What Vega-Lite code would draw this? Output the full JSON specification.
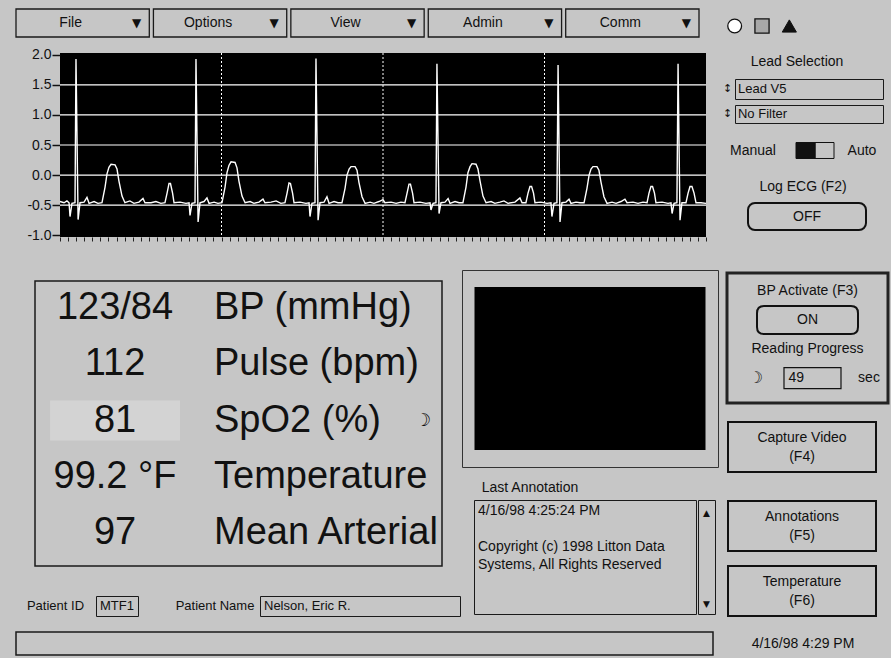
{
 "$schema": "https://vega.github.io/schema/vega-lite/v6.json",
 "background": "#c6c6c6",
 "padding": {"left": 15, "top": 8, "right": 1, "bottom": 2},
 "spacing": 2,
 "config": {
  "view": {"stroke": null},
  "font": "Liberation Sans",
  "text": {"font": "Liberation Sans", "fontSize": 14, "color": "#111111"},
  "concat": {"spacing": 0}
 },
 "hconcat": [
  {"spacing": 0, "vconcat": [
   {
    "width": 683, "height": 28,
    "data": {"values": [{"m": "File"}, {"m": "Options"}, {"m": "View"}, {"m": "Admin"}, {"m": "Comm"}]},
    "encoding": {"x": {"field": "m", "type": "nominal", "sort": null, "axis": null, "scale": {"type": "band", "paddingInner": 0.03, "paddingOuter": 0}}},
    "layer": [
     {"mark": {"type": "bar", "fill": "#c6c6c6", "stroke": "#1a1a1a", "strokeWidth": 1.3}},
     {"mark": {"type": "text", "dx": -12, "fontSize": 14}, "encoding": {"text": {"field": "m"}}},
     {"mark": {"type": "text", "text": "▼", "dx": 54, "font": "DejaVu Sans", "fontSize": 12}}
    ]
   },
   {"width": 1, "height": 9, "data": {"values": []}, "mark": "point"},
   {"spacing": 0, "hconcat": [
    {"width": 10, "height": 1, "data": {"values": []}, "mark": "point"},
    {
     "width": 646, "height": 184,
     "view": {"fill": "black", "stroke": null},
     "layer": [
      {
       "data": {"values": [{"t": 1}, {"t": 2}, {"t": 3}]},
       "mark": {"type": "rule", "color": "white", "strokeDash": [2, 2], "strokeWidth": 1},
       "encoding": {"x": {"field": "t", "type": "quantitative", "scale": {"domain": [0, 4], "nice": false, "zero": false},
        "axis": {"values": [0,0.05,0.1,0.15,0.2,0.25,0.3,0.35,0.4,0.45,0.5,0.55,0.6,0.65,0.7,0.75,0.8,0.85,0.9,0.95,1,1.05,1.1,1.15,1.2,1.25,1.3,1.35,1.4,1.45,1.5,1.55,1.6,1.65,1.7,1.75,1.8,1.85,1.9,1.95,2,2.05,2.1,2.15,2.2,2.25,2.3,2.35,2.4,2.45,2.5,2.55,2.6,2.65,2.7,2.75,2.8,2.85,2.9,2.95,3,3.05,3.1,3.15,3.2,3.25,3.3,3.35,3.4,3.45,3.5,3.55,3.6,3.65,3.7,3.75,3.8,3.85,3.9,3.95,4], "labels": false, "title": null, "grid": false, "domain": false, "tickSize": 4, "tickColor": "#222222", "tickWidth": 1}}}
      },
      {
       "data": {"values": [{"v": 1.5}, {"v": 1}, {"v": 0.5}, {"v": 0}, {"v": -0.5}]},
       "mark": {"type": "rule", "color": "white", "strokeWidth": 1.2},
       "encoding": {"y": {"field": "v", "type": "quantitative", "scale": {"domain": [-1.03, 2.03], "nice": false, "zero": false},
        "axis": {"values": [-1, -0.5, 0, 0.5, 1, 1.5, 2], "labelExpr": "(datum.value < 0 ? '-' : '') + format(abs(datum.value), '.1f')", "title": null, "grid": false, "domain": false, "tickSize": 8, "tickColor": "#111111", "tickWidth": 1.5, "labelFont": "Liberation Sans", "labelFontSize": 14, "labelColor": "#111111", "labelPadding": 1}}}
      },
      {
       "data": {"values": [
        {"t":0,"v":-0.44},{"t":0.025,"v":-0.46},{"t":0.043,"v":-0.43},{"t":0.056,"v":-0.46},{"t":0.062,"v":-0.69},{"t":0.074,"v":-0.47},{"t":0.093,"v":-0.46},{"t":0.099,"v":1.93},{"t":0.112,"v":-0.74},{"t":0.124,"v":-0.46},{"t":0.149,"v":-0.45},{"t":0.167,"v":-0.37},{"t":0.18,"v":-0.47},{"t":0.211,"v":-0.44},{"t":0.235,"v":-0.47},{"t":0.26,"v":-0.46},{"t":0.279,"v":-0.2},{"t":0.291,"v":0.02},{"t":0.303,"v":0.13},{"t":0.316,"v":0.18},{"t":0.341,"v":0.17},{"t":0.353,"v":0.1},{"t":0.365,"v":-0.1},{"t":0.384,"v":-0.35},{"t":0.402,"v":-0.46},{"t":0.433,"v":-0.43},{"t":0.458,"v":-0.47},{"t":0.489,"v":-0.45},{"t":0.514,"v":-0.39},{"t":0.526,"v":-0.46},{"t":0.564,"v":-0.46},{"t":0.594,"v":-0.44},{"t":0.625,"v":-0.47},{"t":0.65,"v":-0.46},{"t":0.663,"v":-0.3},{"t":0.675,"v":-0.14},{"t":0.684,"v":-0.14},{"t":0.697,"v":-0.3},{"t":0.706,"v":-0.46},{"t":0.743,"v":-0.45},{"t":0.78,"v":-0.47},
        {"t":0.799,"v":-0.46},{"t":0.805,"v":-0.67},{"t":0.817,"v":-0.47},{"t":0.836,"v":-0.46},{"t":0.842,"v":1.93},{"t":0.855,"v":-0.78},{"t":0.867,"v":-0.46},{"t":0.892,"v":-0.44},{"t":0.91,"v":-0.38},{"t":0.923,"v":-0.47},{"t":0.954,"v":-0.45},{"t":0.978,"v":-0.47},{"t":1.003,"v":-0.46},{"t":1.022,"v":-0.2},{"t":1.034,"v":0.04},{"t":1.046,"v":0.16},{"t":1.059,"v":0.22},{"t":1.084,"v":0.21},{"t":1.096,"v":0.12},{"t":1.108,"v":-0.1},{"t":1.127,"v":-0.35},{"t":1.146,"v":-0.46},{"t":1.177,"v":-0.44},{"t":1.201,"v":-0.47},{"t":1.232,"v":-0.45},{"t":1.257,"v":-0.4},{"t":1.269,"v":-0.46},{"t":1.307,"v":-0.45},{"t":1.338,"v":-0.43},{"t":1.368,"v":-0.47},{"t":1.393,"v":-0.46},{"t":1.406,"v":-0.3},{"t":1.418,"v":-0.13},{"t":1.427,"v":-0.14},{"t":1.44,"v":-0.3},{"t":1.449,"v":-0.46},{"t":1.486,"v":-0.45},{"t":1.523,"v":-0.47},
        {"t":1.542,"v":-0.46},{"t":1.548,"v":-0.69},{"t":1.56,"v":-0.47},{"t":1.579,"v":-0.46},{"t":1.585,"v":1.94},{"t":1.598,"v":-0.75},{"t":1.61,"v":-0.46},{"t":1.635,"v":-0.45},{"t":1.653,"v":-0.36},{"t":1.666,"v":-0.47},{"t":1.697,"v":-0.44},{"t":1.721,"v":-0.46},{"t":1.746,"v":-0.46},{"t":1.765,"v":-0.22},{"t":1.777,"v":0},{"t":1.79,"v":0.1},{"t":1.802,"v":0.14},{"t":1.827,"v":0.14},{"t":1.839,"v":0.08},{"t":1.851,"v":-0.12},{"t":1.87,"v":-0.36},{"t":1.889,"v":-0.47},{"t":1.92,"v":-0.45},{"t":1.944,"v":-0.47},{"t":1.975,"v":-0.44},{"t":2,"v":-0.41},{"t":2.012,"v":-0.46},{"t":2.05,"v":-0.45},{"t":2.081,"v":-0.47},{"t":2.111,"v":-0.45},{"t":2.136,"v":-0.46},{"t":2.149,"v":-0.3},{"t":2.161,"v":-0.15},{"t":2.17,"v":-0.15},{"t":2.183,"v":-0.3},{"t":2.192,"v":-0.46},{"t":2.229,"v":-0.45},{"t":2.266,"v":-0.47},
        {"t":2.291,"v":-0.46},{"t":2.297,"v":-0.58},{"t":2.31,"v":-0.47},{"t":2.328,"v":-0.46},{"t":2.334,"v":1.85},{"t":2.347,"v":-0.64},{"t":2.359,"v":-0.46},{"t":2.384,"v":-0.45},{"t":2.403,"v":-0.39},{"t":2.415,"v":-0.47},{"t":2.446,"v":-0.44},{"t":2.471,"v":-0.46},{"t":2.495,"v":-0.46},{"t":2.514,"v":-0.2},{"t":2.526,"v":0.04},{"t":2.539,"v":0.14},{"t":2.551,"v":0.19},{"t":2.576,"v":0.18},{"t":2.588,"v":0.1},{"t":2.601,"v":-0.1},{"t":2.619,"v":-0.35},{"t":2.638,"v":-0.46},{"t":2.669,"v":-0.44},{"t":2.693,"v":-0.47},{"t":2.724,"v":-0.45},{"t":2.749,"v":-0.43},{"t":2.774,"v":-0.47},{"t":2.817,"v":-0.45},{"t":2.848,"v":-0.38},{"t":2.861,"v":-0.46},{"t":2.885,"v":-0.46},{"t":2.898,"v":-0.3},{"t":2.91,"v":-0.19},{"t":2.92,"v":-0.19},{"t":2.932,"v":-0.3},{"t":2.941,"v":-0.46},{"t":2.978,"v":-0.45},{"t":3.015,"v":-0.47},
        {"t":3.04,"v":-0.46},{"t":3.046,"v":-0.69},{"t":3.059,"v":-0.47},{"t":3.077,"v":-0.46},{"t":3.084,"v":1.83},{"t":3.096,"v":-0.78},{"t":3.108,"v":-0.46},{"t":3.133,"v":-0.45},{"t":3.152,"v":-0.4},{"t":3.164,"v":-0.47},{"t":3.195,"v":-0.45},{"t":3.22,"v":-0.46},{"t":3.245,"v":-0.46},{"t":3.263,"v":-0.22},{"t":3.276,"v":0},{"t":3.288,"v":0.1},{"t":3.3,"v":0.14},{"t":3.325,"v":0.14},{"t":3.337,"v":0.08},{"t":3.35,"v":-0.12},{"t":3.368,"v":-0.36},{"t":3.387,"v":-0.47},{"t":3.418,"v":-0.45},{"t":3.443,"v":-0.47},{"t":3.474,"v":-0.44},{"t":3.498,"v":-0.4},{"t":3.511,"v":-0.46},{"t":3.548,"v":-0.45},{"t":3.579,"v":-0.47},{"t":3.61,"v":-0.45},{"t":3.635,"v":-0.46},{"t":3.647,"v":-0.3},{"t":3.659,"v":-0.19},{"t":3.669,"v":-0.19},{"t":3.681,"v":-0.3},{"t":3.69,"v":-0.46},{"t":3.728,"v":-0.45},{"t":3.765,"v":-0.47},
        {"t":3.783,"v":-0.46},{"t":3.79,"v":-0.64},{"t":3.802,"v":-0.47},{"t":3.82,"v":-0.46},{"t":3.827,"v":1.85},{"t":3.839,"v":-0.75},{"t":3.851,"v":-0.46},{"t":3.876,"v":-0.46},{"t":3.889,"v":-0.3},{"t":3.901,"v":-0.19},{"t":3.913,"v":-0.19},{"t":3.926,"v":-0.3},{"t":3.938,"v":-0.46},{"t":3.969,"v":-0.46},{"t":4,"v":-0.47}
       ]},
       "mark": {"type": "line", "color": "white", "strokeWidth": 1.4},
       "encoding": {
        "x": {"field": "t", "type": "quantitative", "scale": {"domain": [0, 4], "nice": false, "zero": false},
         "axis": {"values": [0,0.05,0.1,0.15,0.2,0.25,0.3,0.35,0.4,0.45,0.5,0.55,0.6,0.65,0.7,0.75,0.8,0.85,0.9,0.95,1,1.05,1.1,1.15,1.2,1.25,1.3,1.35,1.4,1.45,1.5,1.55,1.6,1.65,1.7,1.75,1.8,1.85,1.9,1.95,2,2.05,2.1,2.15,2.2,2.25,2.3,2.35,2.4,2.45,2.5,2.55,2.6,2.65,2.7,2.75,2.8,2.85,2.9,2.95,3,3.05,3.1,3.15,3.2,3.25,3.3,3.35,3.4,3.45,3.5,3.55,3.6,3.65,3.7,3.75,3.8,3.85,3.9,3.95,4], "labels": false, "title": null, "grid": false, "domain": false, "tickSize": 4, "tickColor": "#222222", "tickWidth": 1}},
        "y": {"field": "v", "type": "quantitative", "scale": {"domain": [-1.03, 2.03], "nice": false, "zero": false},
         "axis": {"values": [-1, -0.5, 0, 0.5, 1, 1.5, 2], "labelExpr": "(datum.value < 0 ? '-' : '') + format(abs(datum.value), '.1f')", "title": null, "grid": false, "domain": false, "tickSize": 8, "tickColor": "#111111", "tickWidth": 1.5, "labelFont": "Liberation Sans", "labelFontSize": 14, "labelColor": "#111111", "labelPadding": 1}}
       }
      }
     ]
    }
   ]},
   {"width": 1, "height": 26, "data": {"values": []}, "mark": "point"},
   {"spacing": 0, "hconcat": [
    {"spacing": 0, "vconcat": [
     {"width": 1, "height": 10, "data": {"values": []}, "mark": "point"},
     {"spacing": 0, "hconcat": [
      {"width": 18, "height": 1, "data": {"values": []}, "mark": "point"},
      {
       "width": 407, "height": 285,
       "view": {"stroke": "#1a1a1a", "strokeWidth": 1.5},
       "data": {"values": [
        {"k": "BP", "val": "123/84", "lab": "BP (mmHg)"},
        {"k": "Pulse", "val": "112", "lab": "Pulse (bpm)"},
        {"k": "SpO2", "val": "81", "lab": "SpO2 (%)"},
        {"k": "Temp", "val": "99.2 °F", "lab": "Temperature"},
        {"k": "MAP", "val": "97", "lab": "Mean Arterial"}
       ]},
       "encoding": {"y": {"field": "k", "type": "nominal", "axis": null, "scale": {"type": "point", "domain": ["BP", "Pulse", "SpO2", "Temp", "MAP"], "padding": 0.533, "align": 0.45}}},
       "layer": [
        {"transform": [{"filter": "datum.k === 'SpO2'"}],
         "mark": {"type": "point", "shape": "M-1,-0.308H1V0.308H-1Z", "size": 16900, "filled": true, "fill": "#d3d3d3", "strokeWidth": 0, "opacity": 1},
         "encoding": {"x": {"datum": "val", "type": "nominal", "axis": null, "scale": {"type": "point", "domain": ["val", "lab", "d1", "d2"], "padding": 0.556, "align": 0.727}}}},
        {"mark": {"type": "text", "fontSize": 38, "align": "center"},
         "encoding": {"x": {"datum": "val", "type": "nominal", "axis": null, "scale": {"type": "point", "domain": ["val", "lab", "d1", "d2"], "padding": 0.556, "align": 0.727}}, "text": {"field": "val"}}},
        {"mark": {"type": "text", "fontSize": 38, "align": "left"},
         "encoding": {"x": {"datum": "lab", "type": "nominal", "axis": null, "scale": {"type": "point", "domain": ["val", "lab", "d1", "d2"], "padding": 0.556, "align": 0.727}}, "text": {"field": "lab"}}},
        {"transform": [{"filter": "datum.k === 'SpO2'"}],
         "mark": {"type": "text", "text": "☽", "fontSize": 18, "dx": 201, "align": "left", "font": "DejaVu Sans"},
         "encoding": {"x": {"datum": "lab", "type": "nominal", "axis": null, "scale": {"type": "point", "domain": ["val", "lab", "d1", "d2"], "padding": 0.556, "align": 0.727}}}}
       ]
      }
     ]},
     {"width": 1, "height": 28, "data": {"values": []}, "mark": "point"},
     {"spacing": 0, "hconcat": [
      {"width": 79, "height": 20, "data": {"values": [{}]}, "mark": {"type": "text", "text": "Patient ID", "fontSize": 13}},
      {"width": 42, "height": 20, "view": {"stroke": "#1a1a1a", "strokeWidth": 1}, "data": {"values": [{}]}, "mark": {"type": "text", "text": "MTF1", "fontSize": 13}},
      {"width": 32, "height": 1, "data": {"values": []}, "mark": "point"},
      {"width": 88, "height": 20, "data": {"values": [{}]}, "mark": {"type": "text", "text": "Patient Name", "fontSize": 13}},
      {"width": 200, "height": 20, "view": {"stroke": "#1a1a1a", "strokeWidth": 1},
       "data": {"values": [{"c": "a", "s": "Nelson, Eric R."}]},
       "mark": {"type": "text", "align": "left", "fontSize": 13},
       "encoding": {"x": {"field": "c", "type": "nominal", "axis": null, "scale": {"type": "point", "padding": 0, "align": 0.02}}, "text": {"field": "s"}}}
     ]}
    ]},
    {"spacing": 0, "vconcat": [
     {"width": 256, "height": 197, "view": {"stroke": "#333333", "strokeWidth": 1},
      "data": {"values": [{}]},
      "mark": {"type": "point", "shape": "M-1,-0.706H1V0.706H-1Z", "size": 53361, "filled": true, "fill": "black", "strokeWidth": 0, "opacity": 1}},
     {"width": 1, "height": 12, "data": {"values": []}, "mark": "point"},
     {"spacing": 0, "hconcat": [
      {"width": 16, "height": 1, "data": {"values": []}, "mark": "point"},
      {"width": 104, "height": 16, "data": {"values": [{}]}, "mark": {"type": "text", "text": "Last Annotation", "fontSize": 14}}
     ]},
     {"width": 1, "height": 3, "data": {"values": []}, "mark": "point"},
     {"spacing": 0, "hconcat": [
      {"width": 11, "height": 1, "data": {"values": []}, "mark": "point"},
      {"width": 222, "height": 114, "view": {"stroke": "#1a1a1a", "strokeWidth": 1},
       "data": {"values": [
        {"r": "l1", "c": "a", "s": "4/16/98 4:25:24 PM"},
        {"r": "l3", "c": "a", "s": "Copyright (c) 1998 Litton Data"},
        {"r": "l4", "c": "a", "s": "Systems, All Rights Reserved"}
       ]},
       "mark": {"type": "text", "align": "left", "fontSize": 14},
       "encoding": {
        "x": {"field": "c", "type": "nominal", "axis": null, "scale": {"type": "point", "padding": 0, "align": 0.018}},
        "y": {"field": "r", "type": "nominal", "axis": null, "scale": {"type": "point", "domain": ["l1", "l2", "l3", "l4", "e1", "e2"], "padding": 0.667, "align": 0.458}},
        "text": {"field": "s"}
       }},
      {"width": 17, "height": 114, "view": {"stroke": "#1a1a1a", "strokeWidth": 1},
       "data": {"values": [{"r": "up", "s": "▲"}, {"r": "down", "s": "▼"}]},
       "mark": {"type": "text", "fontSize": 9, "font": "DejaVu Sans"},
       "encoding": {
        "y": {"field": "r", "type": "nominal", "axis": null, "scale": {"type": "point", "domain": ["up", "down"], "padding": 0.1264, "align": 0.565}},
        "text": {"field": "s"}
       }}
     ]}
    ]}
   ]},
   {"width": 1, "height": 14, "data": {"values": []}, "mark": "point"},
   {"width": 697, "height": 23, "view": {"stroke": "#1a1a1a", "strokeWidth": 1.5}, "data": {"values": []}, "mark": "point"}
  ]},
  {"spacing": 0, "vconcat": [
   {"width": 82, "height": 34,
    "data": {"values": [{}]},
    "layer": [
     {"mark": {"type": "point", "shape": "circle", "size": 190, "filled": true, "fill": "white", "stroke": "#111111", "strokeWidth": 1.3, "opacity": 1},
      "encoding": {"x": {"datum": "circle", "type": "nominal", "axis": null, "scale": {"type": "point", "domain": ["circle", "square", "triangle"], "padding": 0.5}}}},
     {"mark": {"type": "point", "shape": "square", "size": 200, "filled": true, "fill": "#a8a8a8", "stroke": "#111111", "strokeWidth": 1.3, "opacity": 1},
      "encoding": {"x": {"datum": "square", "type": "nominal", "axis": null, "scale": {"type": "point", "domain": ["circle", "square", "triangle"], "padding": 0.5}}}},
     {"mark": {"type": "point", "shape": "triangle-up", "size": 200, "filled": true, "fill": "#111111", "stroke": "#111111", "strokeWidth": 1, "opacity": 1},
      "encoding": {"x": {"datum": "triangle", "type": "nominal", "axis": null, "scale": {"type": "point", "domain": ["circle", "square", "triangle"], "padding": 0.5}}}}
    ]},
   {"width": 1, "height": 3, "data": {"values": []}, "mark": "point"},
   {"width": 152, "height": 32, "data": {"values": [{}]}, "mark": {"type": "text", "text": "Lead Selection", "fontSize": 14}},
   {"spacing": 0, "hconcat": [
    {"width": 13, "height": 20, "data": {"values": [{}]}, "mark": {"type": "text", "text": "↕", "fontSize": 11, "font": "DejaVu Sans"}},
    {"width": 148, "height": 20, "view": {"stroke": "#1a1a1a", "strokeWidth": 1},
     "data": {"values": [{"c": "a", "s": "Lead V5"}]},
     "mark": {"type": "text", "align": "left", "fontSize": 13},
     "encoding": {"x": {"field": "c", "type": "nominal", "axis": null, "scale": {"type": "point", "padding": 0, "align": 0.02}}, "text": {"field": "s"}}}
   ]},
   {"width": 1, "height": 4, "data": {"values": []}, "mark": "point"},
   {"spacing": 0, "hconcat": [
    {"width": 13, "height": 18, "data": {"values": [{}]}, "mark": {"type": "text", "text": "↕", "fontSize": 11, "font": "DejaVu Sans"}},
    {"width": 148, "height": 18, "view": {"stroke": "#1a1a1a", "strokeWidth": 1},
     "data": {"values": [{"c": "a", "s": "No Filter"}]},
     "mark": {"type": "text", "align": "left", "fontSize": 13},
     "encoding": {"x": {"field": "c", "type": "nominal", "axis": null, "scale": {"type": "point", "padding": 0, "align": 0.02}}, "text": {"field": "s"}}}
   ]},
   {"spacing": 0, "hconcat": [
    {"width": 64, "height": 53, "data": {"values": [{}]}, "mark": {"type": "text", "text": "Manual", "fontSize": 14}},
    {"width": 9, "height": 1, "data": {"values": []}, "mark": "point"},
    {"width": 38, "height": 53,
     "data": {"values": [{}]},
     "layer": [
      {"mark": {"type": "point", "shape": "M-1,-0.842H1V0.842H-1Z", "size": 361, "filled": true, "fill": "#111111", "stroke": "#111111", "strokeWidth": 1, "opacity": 1},
       "encoding": {"x": {"datum": "a", "type": "nominal", "axis": null, "scale": {"type": "point", "domain": ["a", "b"], "padding": 0.5}}}},
      {"mark": {"type": "point", "shape": "M-1,-0.842H1V0.842H-1Z", "size": 361, "filled": false, "stroke": "#111111", "strokeWidth": 1, "opacity": 1},
       "encoding": {"x": {"datum": "b", "type": "nominal", "axis": null, "scale": {"type": "point", "domain": ["a", "b"], "padding": 0.5}}}}
     ]},
    {"width": 52, "height": 53, "data": {"values": [{}]}, "mark": {"type": "text", "text": "Auto", "fontSize": 14}}
   ]},
   {"width": 164, "height": 20, "data": {"values": [{}]}, "mark": {"type": "text", "text": "Log ECG (F2)", "fontSize": 14}},
   {"width": 1, "height": 5, "data": {"values": []}, "mark": "point"},
   {"spacing": 0, "hconcat": [
    {"width": 26, "height": 1, "data": {"values": []}, "mark": "point"},
    {"width": 118, "height": 27, "view": {"stroke": "#111111", "strokeWidth": 2, "cornerRadius": 7}, "data": {"values": [{}]}, "mark": {"type": "text", "text": "OFF", "fontSize": 14}}
   ]},
   {"width": 1, "height": 40, "data": {"values": []}, "mark": "point"},
   {"spacing": 0, "hconcat": [
    {"width": 4, "height": 1, "data": {"values": []}, "mark": "point"},
    {
     "width": 161, "height": 130,
     "view": {"stroke": "#222222", "strokeWidth": 3},
     "layer": [
      {"data": {"values": [{"r": "on"}]},
       "mark": {"type": "point", "shape": "M-0.86,-0.277H0.86Q1,-0.277 1,-0.137V0.137Q1,0.277 0.86,0.277H-0.86Q-1,0.277 -1,0.137V-0.137Q-1,-0.277 -0.86,-0.277Z", "size": 10201, "filled": false, "stroke": "#111111", "strokeWidth": 2, "opacity": 1},
       "encoding": {"y": {"field": "r", "type": "nominal", "axis": null, "scale": {"type": "point", "domain": ["title", "on", "rp", "row4"], "padding": 0.74, "align": 0.42}}}},
      {"data": {"values": [{"r": "title", "s": "BP Activate (F3)"}, {"r": "on", "s": "ON"}, {"r": "rp", "s": "Reading Progress"}]},
       "mark": {"type": "text", "fontSize": 14},
       "encoding": {"y": {"field": "r", "type": "nominal", "axis": null, "scale": {"type": "point", "domain": ["title", "on", "rp", "row4"], "padding": 0.74, "align": 0.42}}, "text": {"field": "s"}}},
      {"data": {"values": [{"r": "row4", "c": "box"}]},
       "mark": {"type": "point", "shape": "M-1,-0.368H1V0.368H-1Z", "size": 3249, "filled": false, "stroke": "#111111", "strokeWidth": 1.2, "opacity": 1},
       "encoding": {
        "y": {"field": "r", "type": "nominal", "axis": null, "scale": {"type": "point", "domain": ["title", "on", "rp", "row4"], "padding": 0.74, "align": 0.42}},
        "x": {"field": "c", "type": "nominal", "axis": null, "scale": {"type": "point", "domain": ["spin", "box", "sec"], "padding": 0.425, "align": 0.604}}}},
      {"data": {"values": [{"r": "row4", "c": "spin", "s": "☽"}]},
       "mark": {"type": "text", "fontSize": 16, "font": "DejaVu Sans"},
       "encoding": {
        "y": {"field": "r", "type": "nominal", "axis": null, "scale": {"type": "point", "domain": ["title", "on", "rp", "row4"], "padding": 0.74, "align": 0.42}},
        "x": {"field": "c", "type": "nominal", "axis": null, "scale": {"type": "point", "domain": ["spin", "box", "sec"], "padding": 0.425, "align": 0.604}},
        "text": {"field": "s"}}},
      {"data": {"values": [{"r": "row4", "c": "sec", "s": "sec"}]},
       "mark": {"type": "text", "fontSize": 14},
       "encoding": {
        "y": {"field": "r", "type": "nominal", "axis": null, "scale": {"type": "point", "domain": ["title", "on", "rp", "row4"], "padding": 0.74, "align": 0.42}},
        "x": {"field": "c", "type": "nominal", "axis": null, "scale": {"type": "point", "domain": ["spin", "box", "sec"], "padding": 0.425, "align": 0.604}},
        "text": {"field": "s"}}},
      {"data": {"values": [{"r": "row4", "c": "box", "s": "49"}]},
       "mark": {"type": "text", "fontSize": 14, "align": "left", "dx": -24},
       "encoding": {
        "y": {"field": "r", "type": "nominal", "axis": null, "scale": {"type": "point", "domain": ["title", "on", "rp", "row4"], "padding": 0.74, "align": 0.42}},
        "x": {"field": "c", "type": "nominal", "axis": null, "scale": {"type": "point", "domain": ["spin", "box", "sec"], "padding": 0.425, "align": 0.604}},
        "text": {"field": "s"}}}
     ]
    }
   ]},
   {"width": 1, "height": 16, "data": {"values": []}, "mark": "point"},
   {"spacing": 0, "hconcat": [
    {"width": 6, "height": 1, "data": {"values": []}, "mark": "point"},
    {"width": 148, "height": 50, "view": {"stroke": "#111111", "strokeWidth": 2}, "data": {"values": [{}]}, "mark": {"type": "text", "text": ["Capture Video", "(F4)"], "fontSize": 14, "lineHeight": 19, "dy": -9.5}}
   ]},
   {"width": 1, "height": 27, "data": {"values": []}, "mark": "point"},
   {"spacing": 0, "hconcat": [
    {"width": 6, "height": 1, "data": {"values": []}, "mark": "point"},
    {"width": 148, "height": 50, "view": {"stroke": "#111111", "strokeWidth": 2}, "data": {"values": [{}]}, "mark": {"type": "text", "text": ["Annotations", "(F5)"], "fontSize": 14, "lineHeight": 19, "dy": -9.5}}
   ]},
   {"width": 1, "height": 13, "data": {"values": []}, "mark": "point"},
   {"spacing": 0, "hconcat": [
    {"width": 6, "height": 1, "data": {"values": []}, "mark": "point"},
    {"width": 148, "height": 50, "view": {"stroke": "#111111", "strokeWidth": 2}, "data": {"values": [{}]}, "mark": {"type": "text", "text": ["Temperature", "(F6)"], "fontSize": 14, "lineHeight": 19, "dy": -9.5}}
   ]},
   {"width": 1, "height": 15, "data": {"values": []}, "mark": "point"},
   {"width": 164, "height": 24, "data": {"values": [{}]}, "mark": {"type": "text", "text": "4/16/98 4:29 PM", "fontSize": 14}}
  ]}
 ]
}
